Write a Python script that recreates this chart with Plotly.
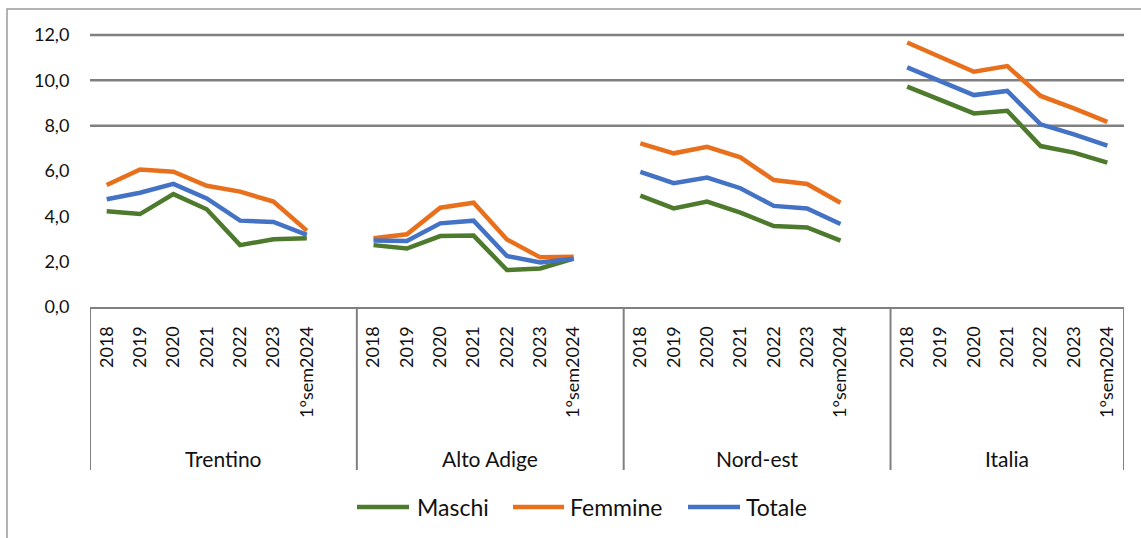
import plotly.graph_objects as go

groups = ["Trentino", "Alto Adige", "Nord-est", "Italia"]
periods = ["2018", "2019", "2020", "2021", "2022", "2023", "1°sem2024"]

maschi = [4.22, 4.10, 4.98, 4.31, 2.73, 2.99, 3.03,
          2.73, 2.58, 3.13, 3.15, 1.63, 1.70, 2.14,
          4.91, 4.35, 4.65, 4.16, 3.57, 3.51, 2.93,
          9.72, 9.13, 8.54, 8.66, 7.10, 6.81, 6.37]
femmine = [5.38, 6.07, 5.97, 5.35, 5.09, 4.65, 3.37,
           3.03, 3.21, 4.38, 4.60, 2.98, 2.19, 2.22,
           7.22, 6.78, 7.07, 6.60, 5.60, 5.43, 4.60,
           11.67, 11.04, 10.38, 10.63, 9.31, 8.76, 8.17]
totale = [4.75, 5.04, 5.43, 4.79, 3.81, 3.75, 3.18,
          2.93, 2.91, 3.69, 3.81, 2.25, 1.96, 2.13,
          5.96, 5.46, 5.71, 5.24, 4.46, 4.35, 3.66,
          10.57, 9.94, 9.35, 9.53, 8.06, 7.62, 7.12]

series_names = ["Maschi", "Femmine", "Totale"]
series_values = [maschi, femmine, totale]
series_colors = ["#4D7A2C", "#E8701C", "#4472C4"]

y_ticks = [0, 2, 4, 6, 8, 10, 12]
y_max = 12
grid_vals = [8, 10, 12]  # gridlines visible in the reference

n = len(periods)
slot = n + 1  # one blank slot after each group (Excel blank row)
n_slots = slot * (len(groups) - 1) + n

# figure geometry (pixels)
W, H = 1141, 538
ML, MR, MT, MB = 90, 17, 35, 231
PW, PH = W - ML - MR, H - MT - MB


def px_x(px):
    return (px - ML) / PW


def px_y(py):
    return (H - MB - py) / PH


def expand(vals):
    xs, ys = [], []
    for g in range(len(groups)):
        for j in range(n):
            xs.append(g * slot + j)
            ys.append(vals[g * n + j])
        if g < len(groups) - 1:
            xs.append(g * slot + n)
            ys.append(None)
    return xs, ys


tickvals, ticktext = [], []
for g in range(len(groups)):
    for j, p in enumerate(periods):
        tickvals.append(g * slot + j)
        ticktext.append(p)

FONT = "Lato, 'Liberation Sans', sans-serif"
TXT = "#111111"
GRID = "#808080"

fig = go.Figure()
for name, vals, col in zip(series_names, series_values, series_colors):
    xs, ys = expand(vals)
    fig.add_trace(go.Scatter(x=xs, y=ys, mode="lines", name=name,
                             line=dict(color=col, width=4.5),
                             connectgaps=False, showlegend=False))

fig.update_xaxes(range=[-0.5, n_slots - 0.5], tickmode="array", tickvals=tickvals,
                 ticktext=ticktext, tickangle=-90, showgrid=False,
                 zeroline=False, showline=True, linecolor=GRID, linewidth=2,
                 ticks="outside", ticklen=10, tickcolor="rgba(0,0,0,0)",
                 tickfont=dict(family=FONT, size=18, color=TXT))
fig.update_yaxes(range=[0, y_max], tickmode="array", tickvals=y_ticks,
                 tickformat=".1f", showgrid=False, zeroline=False,
                 showline=False, ticks="outside", ticklen=16,
                 tickcolor="rgba(0,0,0,0)",
                 tickfont=dict(family=FONT, size=18, color=TXT))

shapes = []
for v in grid_vals:
    shapes.append(dict(type="line", xref="paper", yref="paper", x0=0, x1=1,
                       y0=v / y_max, y1=v / y_max,
                       line=dict(color=GRID, width=2.5), layer="below"))
# group dividers
for g in range(len(groups) + 1):
    xv = min(g * slot, n_slots) - 0.5
    shapes.append(dict(type="line", xref="x", yref="paper", x0=xv, x1=xv,
                       y0=0, y1=px_y(470), line=dict(color=GRID, width=2)))
# outer chart border
shapes.append(dict(type="rect", xref="paper", yref="paper", x0=px_x(7), x1=px_x(1180),
                   y0=px_y(600), y1=px_y(9), line=dict(color="#9A9A9A", width=1.5),
                   fillcolor="rgba(0,0,0,0)"))

annotations = []
for g, name in enumerate(groups):
    left = g * slot - 0.5
    right = min(g * slot + slot, n_slots) - 0.5
    annotations.append(dict(x=(left + right) / 2, xref="x", y=px_y(458), yref="paper",
                            text=name, showarrow=False, yanchor="middle",
                            font=dict(family=FONT, size=21, color=TXT)))

# custom legend (line sample + label)
legend_line_px = [(357, 409), (513, 564), (688, 740)]
legend_text_px = [415, 568, 744]
leg_y = px_y(507)
for name, col, (a, b), t in zip(series_names, series_colors, legend_line_px, legend_text_px):
    shapes.append(dict(type="line", xref="paper", yref="paper", x0=px_x(a), x1=px_x(b),
                       y0=leg_y, y1=leg_y, line=dict(color=col, width=4.5)))
    annotations.append(dict(x=px_x(t), xref="paper", y=leg_y, yref="paper", text=name,
                            showarrow=False, xanchor="left", yanchor="middle",
                            font=dict(family=FONT, size=23, color=TXT)))

fig.update_layout(
    width=W, height=H,
    margin=dict(l=ML, r=MR, t=MT, b=MB),
    paper_bgcolor="white", plot_bgcolor="white",
    separators=",.",
    shapes=shapes, annotations=annotations,
    showlegend=False,
)

fig.write_html("out.html", config={"displayModeBar": False},
               post_script="document.body.style.margin='0px';")
